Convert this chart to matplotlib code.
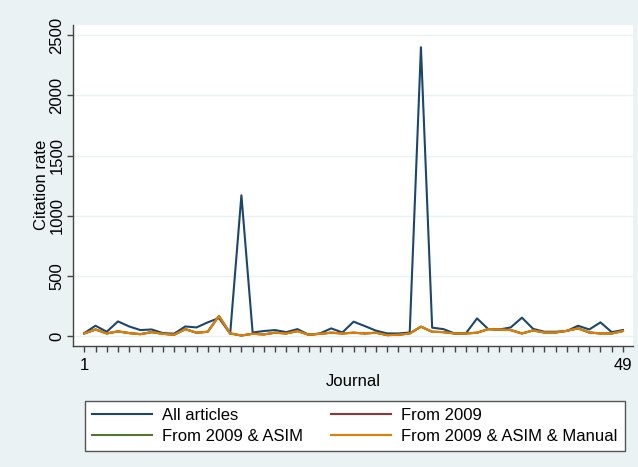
import numpy as np
import matplotlib.pyplot as plt

plt.rcParams['font.family'] = ['Liberation Sans', 'DejaVu Sans']

journal = np.arange(1, 50)

all_articles = [25, 86, 36, 122, 80, 50, 55, 25, 20, 80,
                72, 114, 150, 20, 1170, 30, 42, 50, 33, 58,
                11, 22, 64, 30, 120, 83, 45, 22, 22, 30,
                2400, 70, 58, 22, 22, 147, 58, 55, 72, 153,
                60, 36, 36, 42, 86, 55, 114, 33, 50]
manual = [22, 55, 22, 39, 25, 16, 33, 19, 11, 58,
          28, 36, 167, 22, 5, 19, 14, 28, 22, 42,
          11, 19, 28, 22, 28, 22, 28, 8, 11, 22,
          78, 36, 33, 22, 22, 28, 58, 55, 50, 22,
          47, 30, 30, 44, 64, 30, 22, 22, 42]
# the other two series sit underneath the orange one
from2009 = list(manual)
from2009_asim = list(manual)

bg = "#EAF2F3"
fig = plt.figure(figsize=(6.38, 4.67), dpi=100, facecolor=bg)
ax = fig.add_axes([0.1149, 0.2597, 0.8773, 0.6868])
ax.set_facecolor("white")

l1, = ax.plot(journal, all_articles, color="#1A476F", lw=1.5, label="All articles")
l2, = ax.plot(journal, from2009, color="#90353B", lw=1.5, label="From 2009")
l3, = ax.plot(journal, from2009_asim, color="#55752F", lw=1.5, label="From 2009 & ASIM")
l4, = ax.plot(journal, manual, color="#E37E00", lw=1.5, label="From 2009 & ASIM & Manual")

ax.set_xlim(0.02, 49.9)
ax.set_ylim(-80, 2585)

ax.set_yticks([0, 500, 1000, 1500, 2000, 2500])
ax.set_yticklabels(["0", "500", "1000", "1500", "2000", "2500"], rotation=90, va="center")
ax.yaxis.grid(True, color=bg, lw=1)
ax.set_axisbelow(True)

ax.set_xticks(journal)
ax.set_xticklabels(["1" if j == 1 else ("49" if j == 49 else "") for j in journal])

for s in ["top", "right"]:
    ax.spines[s].set_visible(False)
for s in ["left", "bottom"]:
    ax.spines[s].set_color("#444444")
    ax.spines[s].set_linewidth(1)
ax.tick_params(axis="both", colors="#444444", labelcolor="black", labelsize=12,
               length=4.5, width=1)
ax.tick_params(axis="x", pad=4)
ax.tick_params(axis="y", pad=2)

ax.set_xlabel("Journal", fontsize=12, labelpad=1)
ax.set_ylabel("Citation rate", fontsize=12, labelpad=0)

leg = fig.legend([l1, l3, l2, l4], [l1.get_label(), l3.get_label(), l2.get_label(), l4.get_label()],
                 loc="lower left", bbox_to_anchor=(0.1332, 0.0349),
                 ncol=2, fontsize=12, frameon=True, fancybox=False,
                 handlelength=3.6, handletextpad=0.6, columnspacing=1.7,
                 borderpad=0.42, borderaxespad=0, labelspacing=0.35)
leg.get_frame().set_edgecolor("#555555")
leg.get_frame().set_linewidth(1)
leg.get_frame().set_alpha(1)

fig.savefig("out.png", dpi=100, facecolor=bg)
